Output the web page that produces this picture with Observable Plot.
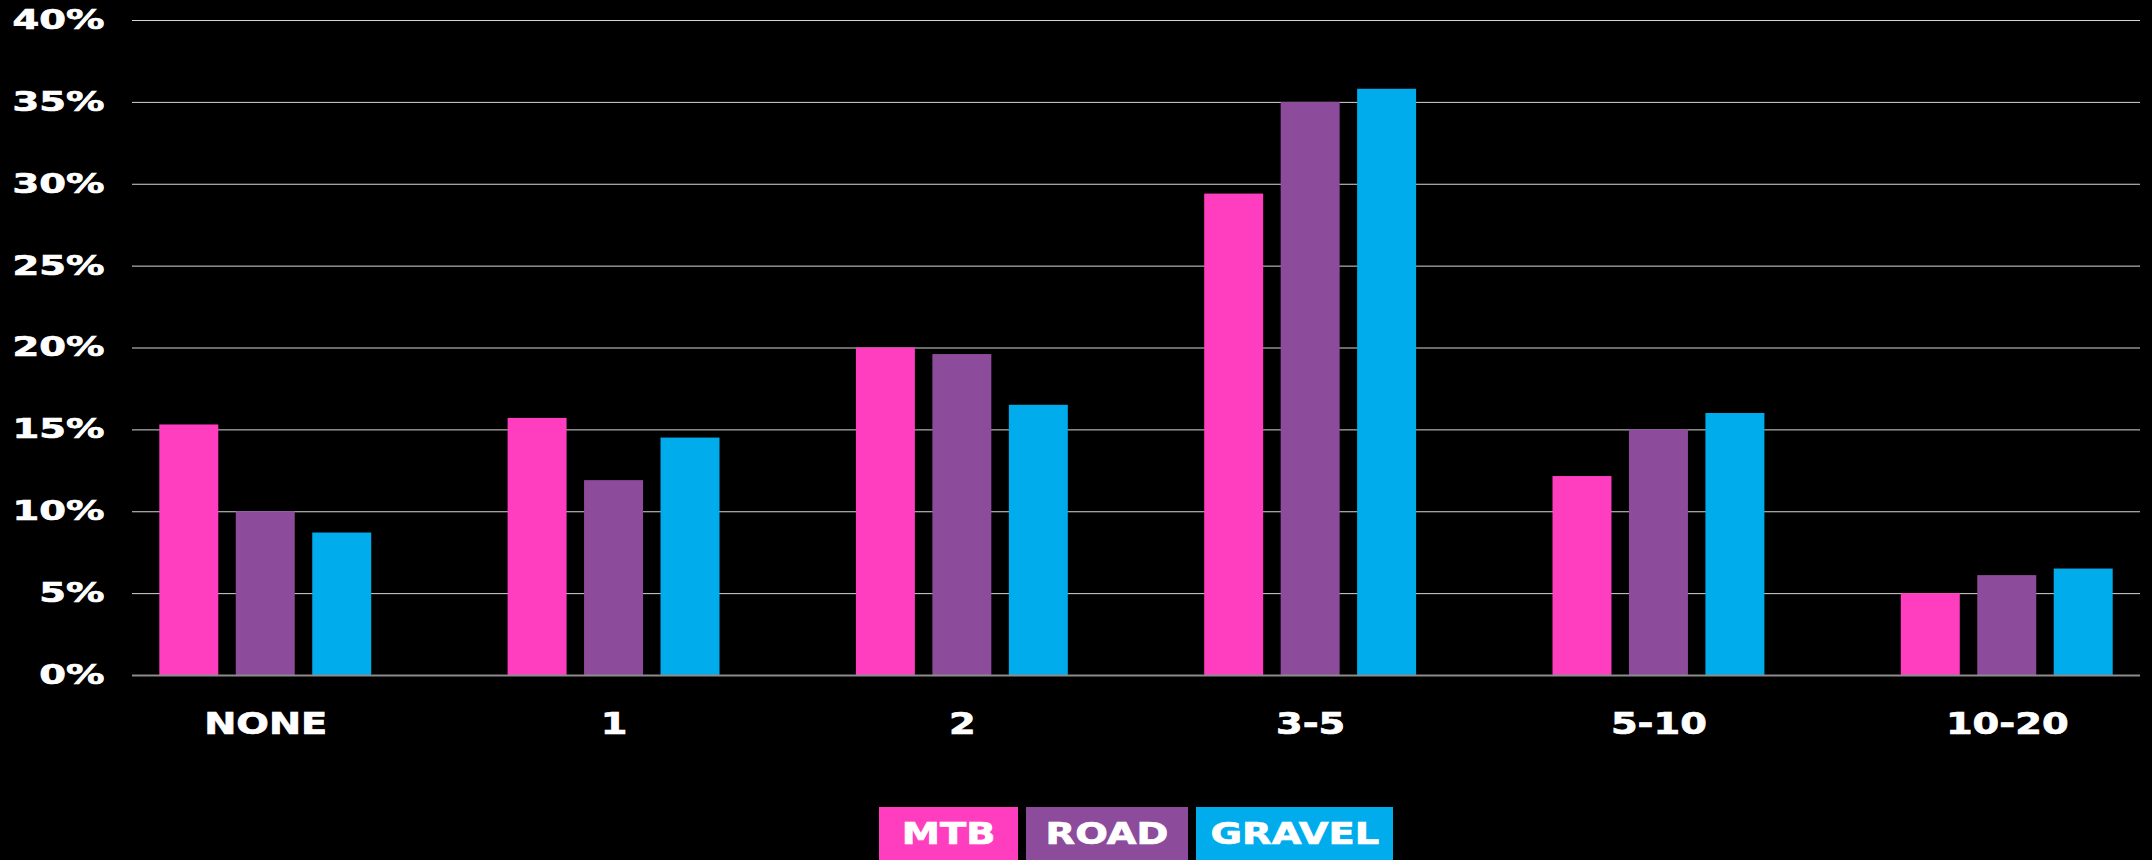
<!DOCTYPE html>
<html>
<head>
<meta charset="utf-8">
<script src="https://cdn.jsdelivr.net/npm/d3@7"></script>
<script src="https://cdn.jsdelivr.net/npm/@observablehq/plot@0.6"></script>
<style>
  html, body { margin: 0; padding: 0; background: #000; overflow: hidden; }
  #chart svg { display: block; }
  #chart g[aria-label^="x-axis"] text { font-size: 30px; stroke: #fff; stroke-width: 0.7px; }
  #chart g[aria-label^="y-axis"] text { font-size: 26.5px; stroke: #fff; stroke-width: 0.7px; }
  .legend { display: flex; justify-content: center; gap: 8px; margin-top: 17px; padding-left: 132px; padding-right: 12px; }
  .legend div { height: 53px; display: flex; align-items: center; justify-content: center; padding: 0 33px; }
  .legend span { display: inline-block; transform: scaleX(1.28); font: bold 30px "DejaVu Sans"; color: #fff; -webkit-text-stroke: 0.7px #fff; }
</style>
</head>
<body>
<div id="chart"></div>
<div class="legend" id="legend"></div>
<script>
const categories = ["NONE", "1", "2", "3-5", "5-10", "10-20"];
const series = ["MTB", "ROAD", "GRAVEL"];
const mtb    = [15.3, 15.7, 20.0, 29.4, 12.15, 5.0];
const road   = [10.0, 11.9, 19.6, 35.0, 15.0, 6.1];
const gravel = [8.7, 14.5, 16.5, 35.8, 16.0, 6.5];
const colors = ["#FF3EBF", "#8D4B9C", "#00ACEC"];
const yTicks = [0, 5, 10, 15, 20, 25, 30, 35, 40];

const valuesBySeries = [mtb, road, gravel];
const data = series.flatMap((s, si) => categories.map((c, ci) => ({cat: c, series: s, value: valuesBySeries[si][ci]})));

const width = 2152, height = 790;
const mL = 132, mR = 12, mT = 20, mB = 115;
const pI = 0.3916, pO = 0.0784;
const W = width - mL - mR;
const step = W / (categories.length - pI + 2 * pO);
const bw = step * (1 - pI);
const barW = bw * 59 / 212;
const gap = (bw - 3 * barW) / 2;

const barMarks = series.map((s, i) => {
  const insetLeft = i * (barW + gap);
  const insetRight = bw - barW - insetLeft;
  return Plot.barY(data.filter(d => d.series === s), {
    x: "cat", y: "value", fill: colors[i], insetLeft, insetRight
  });
});

const svg = Plot.plot({
  width, height,
  marginLeft: mL, marginRight: mR, marginTop: mT, marginBottom: mB,
  style: {background: "#000", color: "#fff", fontFamily: "DejaVu Sans", fontWeight: "bold", overflow: "visible"},
  x: {type: "band", domain: categories, paddingInner: pI, paddingOuter: pO, align: 0.5, round: false,
      label: null, tickSize: 0, tickPadding: 37},
  y: {domain: [0, 40], ticks: yTicks, tickFormat: d => d + "%", label: null, tickSize: 0, tickPadding: 28},
  marks: [
    Plot.ruleY(yTicks, {stroke: "#d6d6d6", strokeWidth: 1}),
    ...barMarks,
    Plot.ruleY([0], {stroke: "#8c8c8c", strokeWidth: 2})
  ]
});

document.getElementById("chart").appendChild(svg);

function stretch(sel, s) {
  svg.querySelectorAll(sel).forEach(t => {
    const x = parseFloat(t.getAttribute("x")) || 0;
    const y = parseFloat(t.getAttribute("y")) || 0;
    const T = t.getAttribute("transform") || "";
    t.setAttribute("transform", `${T} translate(${x},${y}) scale(${s},1) translate(${-x},${-y})`);
  });
}
stretch('g[aria-label^="x-axis"] text', 1.28);
stretch('g[aria-label^="y-axis"] text', 1.45);

const legend = document.getElementById("legend");
series.forEach((s, i) => {
  const box = document.createElement("div");
  box.style.background = colors[i];
  const span = document.createElement("span");
  span.textContent = s;
  box.appendChild(span);
  legend.appendChild(box);
});
</script>
</body>
</html>
